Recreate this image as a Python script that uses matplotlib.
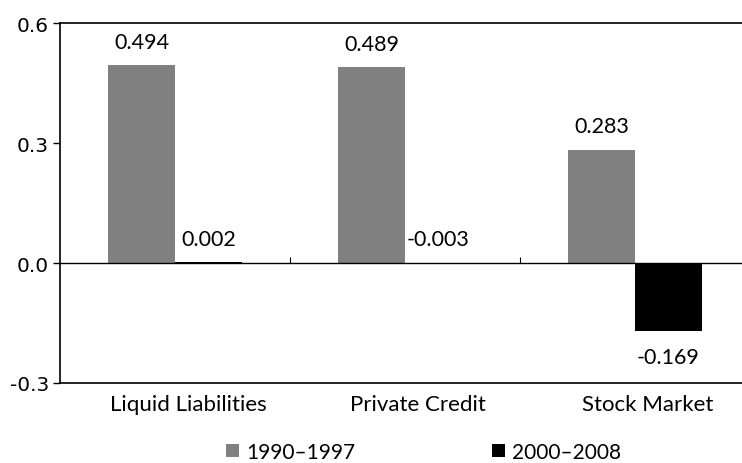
import matplotlib.pyplot as plt
from matplotlib.patches import Patch
import matplotlib.transforms as mtransforms
import numpy as np

# dati
categories = ['Liquid Liabilities', 'Private Credit', 'Stock Market']
series_names = ['1990\u20131997', '2000\u20132008']
values_1990 = [0.494, 0.489, 0.283]
values_2000 = [0.002, -0.003, -0.169]
colors = ['#808080', '#000000']
y_ticks = [-0.3, 0.0, 0.3, 0.6]

txt_font = ['Lato', 'DejaVu Sans']

fig = plt.figure(figsize=(7.42, 4.64), dpi=100)
ax = fig.add_axes([60 / 742, 80 / 464, 682 / 742, 360 / 464])

x = np.arange(len(categories))
w = 0.29
series = [values_1990, values_2000]
for i, vals in enumerate(series):
    pos = x - w / 2 + i * w
    ax.bar(pos, vals, width=w, color=colors[i], edgecolor='none', zorder=2)
    for px, v in zip(pos, vals):
        if v >= -0.01:
            ax.annotate(f'{v:.3f}', (px, max(v, 0)), xytext=(0, 17),
                        textcoords='offset points', ha='center', va='center',
                        fontsize=15.5, family=txt_font)
        else:
            ax.annotate(f'{v:.3f}', (px, v), xytext=(0, -19),
                        textcoords='offset points', ha='center', va='center',
                        fontsize=15.5, family=txt_font)

# linea dello zero con tacche tra le categorie
ax.axhline(0, color='black', linewidth=1, zorder=3)
ax.vlines([0.5, 1.5], 0, 0.015, color='black', linewidth=0.8, zorder=3)

ax.set_xlim(-0.5, -0.5 + 682 / 230)
ax.set_ylim(-0.3, 0.6)
ax.set_yticks(y_ticks)
ax.set_yticklabels([f'{t:.1f}' for t in y_ticks], fontsize=14.5)
ax.tick_params(axis='y', direction='out', length=5, width=1, pad=3)

ax.set_xticks(x)
ax.set_xticklabels(categories, fontsize=16, family=txt_font)
ax.tick_params(axis='x', length=0, pad=8)
# etichette leggermente spostate a destra come nell'originale
shift = mtransforms.ScaledTranslation(13 / 100, 0, fig.dpi_scale_trans)
for lab in ax.get_xticklabels():
    lab.set_transform(lab.get_transform() + shift)

ax.spines['right'].set_visible(False)
for s in ['left', 'top', 'bottom']:
    ax.spines[s].set_linewidth(1.2)

handles = [Patch(facecolor=c, edgecolor='none') for c in colors]
fig.legend(handles, series_names, loc='center', bbox_to_anchor=(0.571, 0.024),
           ncol=2, frameon=False, handlelength=0.62, handleheight=0.62,
           handletextpad=0.34, columnspacing=6.6,
           prop={'family': txt_font, 'size': 15})

plt.savefig('out.png', dpi=100)
